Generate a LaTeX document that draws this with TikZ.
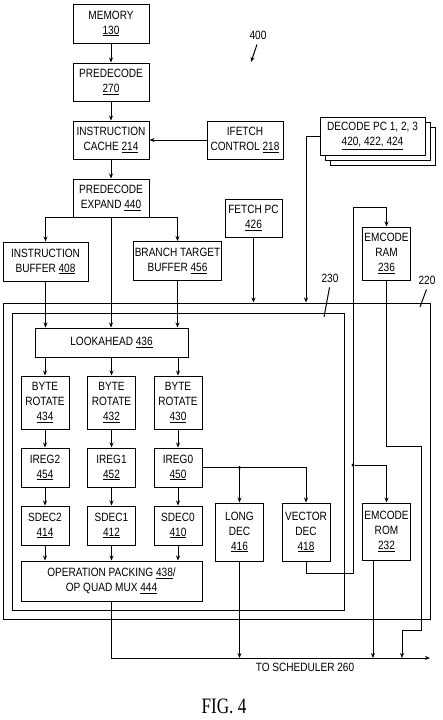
\documentclass[tikz,border=0pt]{standalone}
\usepackage{fontspec}
\setmainfont{Liberation Sans}[FakeStretch=0.84]
\newfontfamily\figfont{Liberation Serif}[FakeStretch=0.78]
\usetikzlibrary{positioning,arrows.meta,shadows}
\newcommand{\refno}[1]{\underline{#1}}
\tikzset{
  blk/.style={rectangle,draw=black,line width=1pt,align=center,inner sep=1pt,font=\fontsize{12}{15}\selectfont},
  midblk/.style={blk,minimum width=76pt,minimum height=38pt},
  narblk/.style={blk,minimum width=48pt,minimum height=39pt},
  tallblk/.style={blk,minimum width=48pt,minimum height=56pt},
  frame/.style={rectangle,draw=black,line width=1pt,inner sep=0pt},
  wire/.style={line width=1pt},
  arr/.style={-{Stealth[length=5pt,width=4pt]},line width=1pt},
  jdot/.style={circle,fill=black,inner sep=0pt,minimum size=3.2pt},
  lbl/.style={font=\fontsize{12}{15}\selectfont,inner sep=1pt}
}

\begin{document}
\begin{tikzpicture}[x=1pt,y=-1pt,node distance=19pt]
  \path[use as bounding box] (0,0) rectangle (442,720);
  % decoder frames 220 and 230
  \node[frame,minimum width=427pt,minimum height=316pt] (u220) at (216.5,461) {};
  \node[frame,minimum width=332pt,minimum height=297pt] (u230) at (178,461.5) {};

  % fetch side
  \node[midblk,minimum height=39pt] (mem) at (111,23.5) {MEMORY\\\refno{130}};
  \node[midblk,below=of mem] (pre) {PREDECODE\\\refno{270}};
  \node[midblk,below=of pre] (icache) {INSTRUCTION\\CACHE \refno{214}};
  \node[midblk,right=57pt of icache] (ifc) {IFETCH\\CONTROL \refno{218}};
  \node[midblk,below=of icache] (pexp) {PREDECODE\\EXPAND \refno{440}};
  \node[blk,minimum width=105pt,minimum height=38pt,fill=white,
        double copy shadow={shadow xshift=5pt,shadow yshift=-5pt}] (dpc) at (372.5,136)
        {DECODE PC 1, 2, 3\\\refno{420, 422, 424}};
  \node[blk,minimum width=85pt,minimum height=39pt] (ibuf) at (45.5,261.5) {INSTRUCTION\\BUFFER \refno{408}};
  \node[blk,minimum width=85pt,minimum height=39pt] (btb) at (177.5,261) {BRANCH TARGET\\BUFFER \refno{456}};
  \node[blk,minimum width=57pt,minimum height=38pt] (fpc) at (253.5,218) {FETCH PC\\\refno{426}};
  \node[tallblk,minimum height=53pt] (eram) at (386.5,253.5) {EMCODE\\RAM\\\refno{236}};

  % decoder
  \node[blk,minimum width=153pt,minimum height=29pt] (look) at (111.5,342.5) {LOOKAHEAD \refno{436}};
  \foreach \c/\x/\r/\i/\s in {2/45/434/454/414,1/111.5/432/452/412,0/178/430/450/410}{
    \node[tallblk,minimum height=53pt] (rot\c) at (\x,402.5) {BYTE\\ROTATE\\\refno{\r}};
    \node[narblk,below=18pt of rot\c] (ireg\c) {IREG\c\\\refno{\i}};
    \node[narblk,below=18pt of ireg\c] (sdec\c) {SDEC\c\\\refno{\s}};
  }
  \node[tallblk,minimum height=58pt] (ldec) at (239.5,532) {LONG\\DEC\\\refno{416}};
  \node[tallblk,minimum height=58pt] (vdec) at (306,532) {VECTOR\\DEC\\\refno{418}};
  \node[tallblk,minimum height=57pt] (erom) at (386.5,531.5) {EMCODE\\ROM\\\refno{232}};
  \node[blk,minimum width=181pt,minimum height=40pt] (opk) at (111.5,581) {OPERATION PACKING \refno{438}/\\OP QUAD MUX \refno{444}};

  % labels
  \node[lbl] (n400) at (258,35) {400};
  \node[lbl] (n230) at (330,278) {230};
  \node[lbl] (n220) at (427,280) {220};
  \node[lbl] (sched) at (305,667) {TO SCHEDULER 260};
  \node[font=\figfont\fontsize{22}{22}\selectfont,inner sep=0pt] (fig) at (224,706) {FIG.\ 4};
  \coordinate (t400) at (251,62);
  \coordinate (e230) at (324,317);
  \coordinate (e220) at (420,307);
  \draw[arr] ([shift={(-1,4)}]n400.south) -- (t400);
  \draw[wire] ([shift={(-0.5,4)}]n230.south) -- (e230);
  \draw[wire] ([shift={(-0.5,4)}]n220.south) -- (e220);

  % fetch connections
  \draw[arr] (mem) -- (pre);
  \draw[arr] (pre) -- (icache);
  \draw[arr] (icache) -- (pexp);
  \draw[arr] (ifc) -- (icache);
  \coordinate (splitL) at (83,217);
  \coordinate (splitR) at (139,217);
  \draw[arr] (pexp.south -| splitL) -- (splitL) -| (ibuf.north);
  \draw[arr] (pexp.south -| splitR) -- (splitR) -| (btb.north);
  \draw[arr] (pexp) -- (pexp |- look.north);
  \draw[arr] (ibuf.south) -- (ibuf.south |- look.north);
  \draw[arr] (btb.south) -- (btb.south |- look.north);
  \draw[arr] (fpc) -- (fpc |- u220.north);
  \coordinate (dpcturn) at (306,136);
  \draw[arr] (dpc.west) -- (dpcturn) -- (dpcturn |- u220.north);

  % decoder connections
  \foreach \c in {2,1,0}{
    \draw[arr] (look.south -| rot\c.north) -- (rot\c.north);
    \draw[arr] (rot\c) -- (ireg\c);
    \draw[arr] (ireg\c) -- (sdec\c);
    \draw[arr] (sdec\c.south) -- (sdec\c.south |- opk.north);
  }
  \draw[arr] (ireg0.east) -| (vdec.north);
  \node[jdot] (j0) at (ldec.north |- ireg0.east) {};
  \draw[arr] (j0) -- (ldec.north);

  % emcode path
  \coordinate (vtap) at (353,573);
  \coordinate (ramtop) at (353,207);
  \draw[arr] (vdec.south) |- (vtap) -- (ramtop) -| (eram.north);
  \node[jdot] (j1) at (353,465) {};
  \draw[arr] (j1) -| (erom.north);

  % outputs to scheduler
  \coordinate (busR) at (430,658);
  \coordinate (ramA) at (421,446);
  \coordinate (ramB) at (402,630);
  \draw[arr] (opk.south) |- (busR);
  \draw[arr] (ldec.south) -- (ldec.south |- busR);
  \draw[arr] ([xshift=-13.5pt]erom.south) -- ([xshift=-13.5pt]erom.south |- busR);
  \draw[arr] (eram.south) |- (ramA) |- (ramB) -- (ramB |- busR);
\end{tikzpicture}
\end{document}
